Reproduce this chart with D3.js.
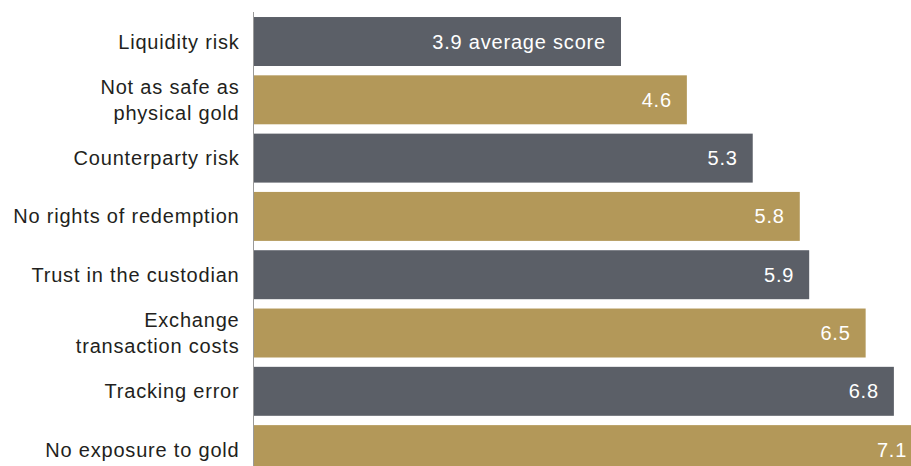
<!DOCTYPE html>
<html>
<head>
<meta charset="utf-8">
<script src="https://cdn.jsdelivr.net/npm/d3@7"></script>
<style>
  html, body { margin: 0; padding: 0; background: #fff; }
  svg { display: block; }
  text { font-family: "Liberation Sans", Arial, Helvetica, sans-serif; letter-spacing: 0.8px; }
</style>
</head>
<body>
<svg id="chart" width="911" height="466"></svg>
<script>
// Concerns about gold ETFs, ranked by average score
const categories = [
  "Liquidity risk",
  "Not as safe as\nphysical gold",
  "Counterparty risk",
  "No rights of redemption",
  "Trust in the custodian",
  "Exchange\ntransaction costs",
  "Tracking error",
  "No exposure to gold"
];
const scores = [3.9, 4.6, 5.3, 5.8, 5.9, 6.5, 6.8, 7.1];
const valueLabels = ["3.9 average score", "4.6", "5.3", "5.8", "5.9", "6.5", "6.8", "7.1"];
const barColors = ["#5b5f67", "#b39859"];

const svg = d3.select("#chart");
const width = 911, height = 466;

const data = categories.map((c, i) => ({ category: c, score: scores[i], label: valueLabels[i], i }));

const x = d3.scaleLinear()
  .domain([0, 7.1])
  .range([254, 254 + 7.1 * 94.1]);

const y = d3.scaleBand()
  .domain(categories)
  .range([7.7, 7.7 + 58.3 * 8.16])
  .padding(0.16);

// bars
svg.append("g")
  .selectAll("rect")
  .data(data)
  .join("rect")
  .attr("x", x(0))
  .attr("y", d => y(d.category))
  .attr("width", d => x(d.score) - x(0))
  .attr("height", y.bandwidth())
  .attr("fill", d => barColors[d.i % 2]);

// value labels inside bar ends
svg.append("g")
  .selectAll("text")
  .data(data)
  .join("text")
  .attr("x", d => x(d.score) - 15)
  .attr("y", d => y(d.category) + y.bandwidth() / 2)
  .attr("dy", "0.35em")
  .attr("text-anchor", "end")
  .attr("fill", "#ffffff")
  .attr("font-size", 20)
  .text(d => d.label);

// category axis
const yAxis = svg.append("g")
  .attr("transform", `translate(${x(0) - 0.5},0)`)
  .call(d3.axisLeft(y).tickSize(0).tickPadding(15).tickFormat(""));
yAxis.select(".domain").remove();

yAxis.append("line")
  .attr("x1", 0).attr("x2", 0)
  .attr("y1", 12).attr("y2", height)
  .attr("stroke", "#9a9a9a")
  .attr("stroke-width", 1);

yAxis.selectAll(".tick").each(function(d) {
  const lines = d.split("\n");
  const lh = 26;
  const t = d3.select(this).append("text")
    .attr("x", -15)
    .attr("text-anchor", "end")
    .attr("fill", "#231f20")
    .attr("font-size", 20);
  lines.forEach((ln, k) => {
    t.append("tspan")
      .attr("x", -14)
      .attr("y", (k - (lines.length - 1) / 2) * lh)
      .attr("dy", "0.35em")
      .text(ln);
  });
});
</script>
</body>
</html>
